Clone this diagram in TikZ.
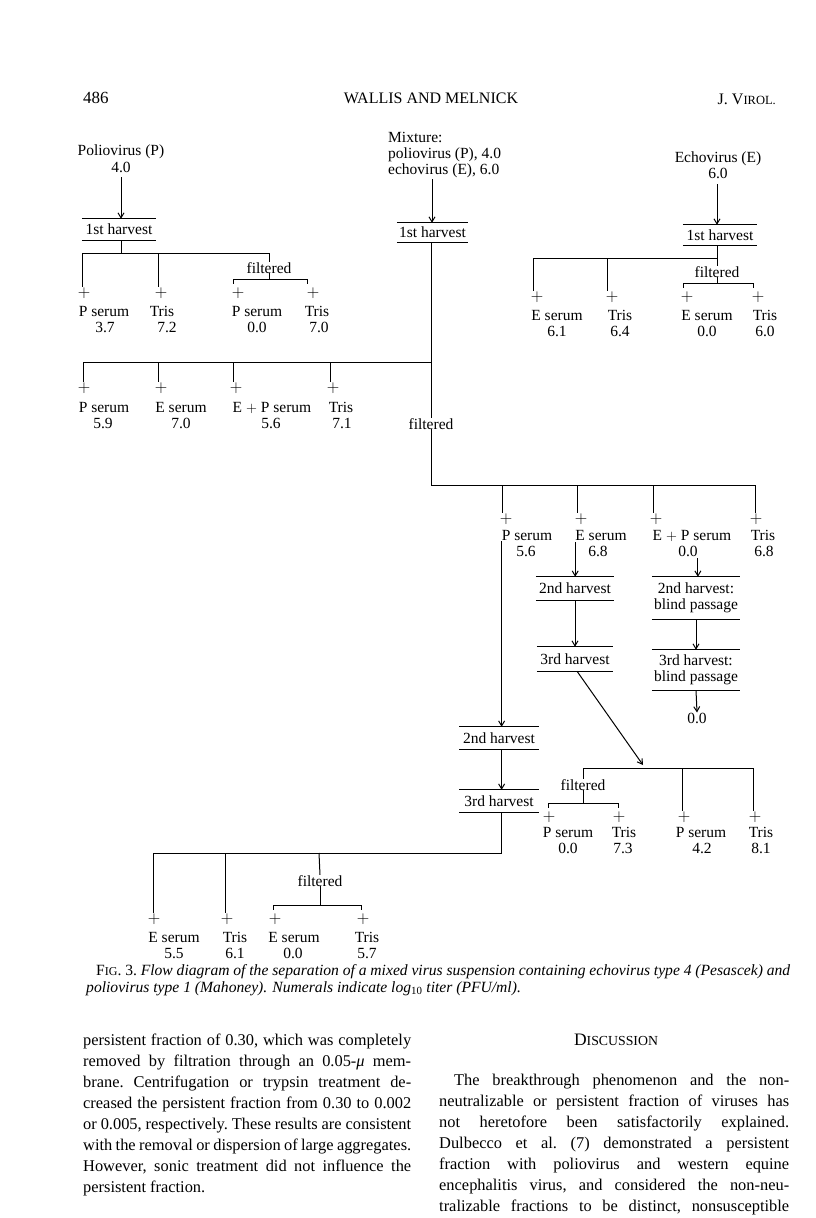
\documentclass[tikz,border=0pt]{standalone}
\usepackage{fontspec}
\setmainfont{Liberation Serif}
\usetikzlibrary{arrows.meta}
\newcommand{\mkleaf}[8]{%
  \node[pl] (#1p) at (#2,#3) {$+$};
  \node[lab] (#1l) at (#4,#5+5) {#6};
  \node[lab] (#1v) at (#7,#5+21) {#8};
}
\newcommand{\fsc}[2][11.5]{{\fontsize{#1}{#1}\selectfont #2}}
\newcommand{\jline}[1]{\hbox to \linew{\frenchspacing\spaceskip=0.25em plus 0.6em minus 0.1em\relax #1}}
\newlength{\linew}
\begin{document}
\begin{tikzpicture}[x=1pt,y=-1pt,
  lab/.style={inner sep=0pt,anchor=base,font=\fontsize{15.5}{16}\selectfont},
  pl/.style={inner sep=0pt,anchor=center,font=\fontsize{16}{16}\selectfont},
  hb/.style={inner sep=0pt,align=center,font=\fontsize{15.5}{16.5}\selectfont},
  body/.style={inner sep=0pt,anchor=base west,font=\fontsize{16.4}{18}\selectfont\frenchspacing},
  ln/.style={line width=1pt},
  ar/.style={line width=1pt,-{Straight Barb[length=5pt,width=6pt]}},
  tk/.style={line width=1pt,shorten >=3pt}
]
\fill[white] (0,0) rectangle (816,1218);
\useasboundingbox (0,0) rectangle (816,1218);

% ---------- header ----------
\node[inner sep=0pt,anchor=base west,font=\fontsize{17}{17}\selectfont] (pg) at (83,103) {486};
\node[inner sep=0pt,anchor=base,font=\fontsize{16}{16}\selectfont] (rh) at (431,103) {WALLIS AND MELNICK};
\node[inner sep=0pt,anchor=base east,font=\fontsize{16}{16}\selectfont] (jv) at (776,104) {J. V\fsc[12.5]{IROL.}};

% ---------- poliovirus branch ----------
\node[lab] (polio) at (121,155) {Poliovirus (P)};
\node[lab] (poliov) at (121,172) {4.0};
\node[hb,minimum width=74pt,minimum height=21pt] (h1) at (119,229.5) {1st harvest};
\draw[ln] (h1.north west) -- (h1.north east) (h1.south west) -- (h1.south east);
\coordinate (a0) at (121,177);
\draw[ar] (a0) -- (a0 |- h1.north);
\coordinate (aj) at (121,253);
\coordinate (aL) at (82,253);
\coordinate (aB) at (158,253);
\coordinate (aR) at (269,253);
\draw[ln] (h1.south -| aj) -- (aj);
\draw[ln] (aL) -- (aR);
\mkleaf{a1}{84}{293}{104}{311}{P serum}{105}{3.7}
\mkleaf{a2}{161}{293}{162}{311}{Tris}{167}{7.2}
\mkleaf{a3}{238}{293}{257}{311}{P serum}{257}{0.0}
\mkleaf{a4}{313}{293}{317}{311}{Tris}{319}{7.0}
\draw[ln] (aL) -- (aL |- a1p.north);
\draw[ln] (aB) -- (aB |- a2p.north);
\node[lab] (af) at (269,273) {filtered};
\draw[ln] (aR) -- (af.north);
\coordinate (afb) at (269,279);
\coordinate (afl) at (233,279);
\coordinate (afr) at (307,279);
\draw[ln] (af.south) -- (afb);
\draw[tk] (afl) -- (afl |- a3p.north);
\draw[ln] (afl) -- (afr);
\draw[tk] (afr) -- (afr |- a4p.north);

% ---------- mixture branch ----------
\node[lab,anchor=base west] (mx1) at (388,142) {Mixture:};
\node[lab,anchor=base west] (mx2) at (388,158) {poliovirus (P), 4.0};
\node[lab,anchor=base west] (mx3) at (388,174) {echovirus (E), 6.0};
\node[hb,minimum width=71pt,minimum height=19pt] (h2) at (432.5,232.5) {1st harvest};
\draw[ln] (h2.north west) -- (h2.north east) (h2.south west) -- (h2.south east);
\coordinate (m0) at (432,179);
\draw[ar] (m0) -- (m0 |- h2.north);
\coordinate (mJ) at (431,362);
\coordinate (mL) at (83,362);
\coordinate (mB) at (158,362);
\coordinate (mC) at (233,362);
\coordinate (mD) at (330,362);
\draw[ln] (h2.south -| mJ) -- (mJ) -- (mL);
\mkleaf{b1}{84}{388}{104}{407}{P serum}{103}{5.9}
\mkleaf{b2}{161}{388}{181}{407}{E serum}{181}{7.0}
\mkleaf{b3}{236}{388}{272}{407}{E $+$ P serum}{271}{5.6}
\mkleaf{b4}{333}{388}{341}{407}{Tris}{342}{7.1}
\draw[ln] (mL) -- (mL |- b1p.north);
\draw[ln] (mB) -- (mB |- b2p.north);
\draw[ln] (mC) -- (mC |- b3p.north);
\draw[ln] (mD) -- (mD |- b4p.north);
\node[lab] (mf) at (431,429) {filtered};
\draw[ln] (mJ) -- (mf.north);
\coordinate (nJ) at (431,485);
\coordinate (nA) at (502,485);
\coordinate (nB) at (577,485);
\coordinate (nC) at (653,485);
\coordinate (nD) at (755,485);
\draw[ln] (mf.south) -- (nJ) -- (nD);
\mkleaf{c1}{506}{519}{527}{535}{P serum}{526}{5.6}
\mkleaf{c2}{581}{519}{601}{535}{E serum}{598}{6.8}
\mkleaf{c3}{656}{519}{692}{535}{E $+$ P serum}{688}{0.0}
\mkleaf{c4}{756}{519}{763}{535}{Tris}{764}{6.8}
\draw[ln] (nA) -- (nA |- c1p.north);
\draw[ln] (nB) -- (nB |- c2p.north);
\draw[ln] (nC) -- (nC |- c3p.north);
\draw[ln] (nD) -- (nD |- c4p.north);

% E serum column
\node[hb,minimum width=78pt,minimum height=23pt] (h4) at (575,588.5) {2nd harvest};
\draw[ln] (h4.north west) -- (h4.north east) (h4.south west) -- (h4.south east);
\node[hb,minimum width=76pt,minimum height=24pt] (h5) at (575,659) {3rd harvest};
\draw[ln] (h5.north west) -- (h5.north east) (h5.south west) -- (h5.south east);
\draw[ar] ([yshift=-2pt]c2l.south west) -- (c2l.south west |- h4.north);
\draw[ar] (h4.south) -- (h5.north);

% E + P serum column
\node[hb,minimum width=88pt,minimum height=42pt] (h6) at (696,598) {2nd harvest:\\blind passage};
\draw[ln] (h6.north west) -- (h6.north east) (h6.south west) -- (h6.south east);
\node[hb,minimum width=88pt,minimum height=40pt] (h7) at (696,670) {3rd harvest:\\blind passage};
\draw[ln] (h7.north west) -- (h7.north east) (h7.south west) -- (h7.south east);
\node[lab] (z0) at (697,723) {0.0};
\draw[ar] ([yshift=-2pt]c3v.south east) -- (c3v.south east |- h6.north);
\draw[ar] (h6.south) -- (h7.north);
\draw[ar] (h7.south) -- (z0.north);

% P serum column
\node[hb,minimum width=79pt,minimum height=22pt] (h8) at (499,738) {2nd harvest};
\draw[ln] (h8.north west) -- (h8.north east) (h8.south west) -- (h8.south east);
\node[hb,minimum width=79pt,minimum height=22pt] (h9) at (499,801) {3rd harvest};
\draw[ln] (h9.north west) -- (h9.north east) (h9.south west) -- (h9.south east);
\draw[ar] ([yshift=-1pt]c1l.south west) -- (c1l.south west |- h8.north);
\draw[ar] (h8.south -| c1l.south west) -- (h9.north -| c1l.south west);

% subtree after E serum 3rd harvest
\coordinate (fL) at (583,768);
\coordinate (fM) at (682,768);
\coordinate (fR) at (753,768);
\coordinate (ft) at (643,765);
\draw[ar] ([xshift=2pt]h5.south) -- (ft);
\draw[ln] (fL) -- (fR);
\mkleaf{f1}{549}{817}{568}{832}{P serum}{568}{0.0}
\mkleaf{f2}{619}{817}{624}{832}{Tris}{623}{7.3}
\mkleaf{f3}{684}{817}{701}{832}{P serum}{702}{4.2}
\mkleaf{f4}{755}{817}{761}{832}{Tris}{761}{8.1}
\node[lab] (ff) at (583,790) {filtered};
\draw[ln] (fL) -- (ff.north);
\coordinate (ffb) at (583,803);
\coordinate (ffl) at (548,803);
\coordinate (ffr) at (618,803);
\draw[ln] (ff.south) -- (ffb);
\draw[tk] (ffl) -- (ffl |- f1p.north);
\draw[ln] (ffl) -- (ffr);
\draw[tk] (ffr) -- (ffr |- f2p.north);
\draw[ln] (fM) -- (fM |- f3p.north);
\draw[ln] (fR) -- (fR |- f4p.north);

% bottom subtree after P serum 3rd harvest
\coordinate (gJ) at (501,853);
\coordinate (gL) at (153,853);
\coordinate (gB) at (225,853);
\coordinate (gF) at (319,853);
\draw[ln] (h9.south -| gJ) -- (gJ) -- (gL);
\mkleaf{g1}{154}{919}{174}{937}{E serum}{174}{5.5}
\mkleaf{g2}{227}{919}{235}{937}{Tris}{235}{6.1}
\mkleaf{g3}{275}{919}{294}{937}{E serum}{293}{0.0}
\mkleaf{g4}{363}{919}{367}{937}{Tris}{367}{5.7}
\draw[ln] (gL) -- (gL |- g1p.north);
\draw[ln] (gB) -- (gB |- g2p.north);
\node[lab] (gf) at (320,886) {filtered};
\draw[ln] (gF) -- (gf.north);
\coordinate (gfb) at (320,905);
\coordinate (gfl) at (273,905);
\coordinate (gfr) at (361,905);
\draw[ln] (gf.south) -- (gfb);
\draw[tk] (gfl) -- (gfl |- g3p.north);
\draw[ln] (gfl) -- (gfr);
\draw[tk] (gfr) -- (gfr |- g4p.north);

% ---------- echovirus branch ----------
\node[lab] (echo) at (718,162) {Echovirus (E)};
\node[lab] (echov) at (718,178) {6.0};
\node[hb,minimum width=74pt,minimum height=20pt] (h3) at (720,235) {1st harvest};
\draw[ln] (h3.north west) -- (h3.north east) (h3.south west) -- (h3.south east);
\coordinate (e0) at (717,184);
\draw[ar] (e0) -- (e0 |- h3.north);
\coordinate (eJ) at (717,258);
\coordinate (eL) at (533,258);
\coordinate (eB) at (607,258);
\draw[ln] (h3.south -| eJ) -- (eJ) -- (eL);
\mkleaf{d1}{537}{297}{557}{315}{E serum}{557}{6.1}
\mkleaf{d2}{612}{297}{620}{315}{Tris}{620}{6.4}
\mkleaf{d3}{687}{297}{707}{315}{E serum}{707}{0.0}
\mkleaf{d4}{758}{297}{765}{315}{Tris}{765}{6.0}
\draw[ln] (eL) -- (eL |- d1p.north);
\draw[ln] (eB) -- (eB |- d2p.north);
\node[lab] (ef) at (717,277) {filtered};
\draw[ln] (eJ) -- (ef.north);
\coordinate (efb) at (717,283);
\coordinate (efl) at (683,283);
\coordinate (efr) at (753,283);
\draw[ln] (ef.south) -- (efb);
\draw[tk] (efl) -- (efl |- d3p.north);
\draw[ln] (efl) -- (efr);
\draw[tk] (efr) -- (efr |- d4p.north);

% ---------- caption ----------
\node[body,font=\fontsize{15.6}{16}\selectfont\itshape] (cap1) at (96,975)
  {\setlength{\linew}{694pt}\jline{\upshape F\fsc[12]{IG}. 3.\itshape{} Flow diagram of the separation of a mixed virus suspension containing echovirus type 4 (Pesascek) and}};
\node[body,font=\fontsize{15.6}{16}\selectfont\itshape] (cap2) at (86,992)
  {poliovirus type 1 (Mahoney). Numerals indicate log{\upshape\textsubscript{10}} titer (PFU/ml).};

% ---------- body text, left column ----------
\node[body] (t1) at (83,1045) {\setlength{\linew}{328pt}\jline{persistent fraction of 0.30, which was completely}};
\node[body] (t2) at (83,1066) {\setlength{\linew}{328pt}\jline{removed by filtration through an 0.05-{\itshape μ} mem-}};
\node[body] (t3) at (83,1087) {\setlength{\linew}{328pt}\jline{brane. Centrifugation or trypsin treatment de-}};
\node[body] (t4) at (83,1108) {\setlength{\linew}{328pt}\jline{creased the persistent fraction from 0.30 to 0.002}};
\node[body] (t5) at (83,1129) {\setlength{\linew}{328pt}\jline{or 0.005, respectively. These results are consistent}};
\node[body] (t6) at (83,1150) {\setlength{\linew}{328pt}\jline{with the removal or dispersion of large aggregates.}};
\node[body] (t7) at (83,1171) {\setlength{\linew}{328pt}\jline{However, sonic treatment did not influence the}};
\node[body] (t8) at (83,1192) {persistent fraction.};

% ---------- body text, right column ----------
\node[inner sep=0pt,anchor=base,font=\fontsize{17.5}{18}\selectfont] (disc) at (616,1045) {D\fsc[13.8]{ISCUSSION}};
\node[body] (r1) at (454,1085) {\setlength{\linew}{335pt}\jline{The breakthrough phenomenon and the non-}};
\node[body] (r2) at (439,1106) {\setlength{\linew}{350pt}\jline{neutralizable or persistent fraction of viruses has}};
\node[body] (r3) at (439,1127) {\setlength{\linew}{350pt}\jline{not heretofore been satisfactorily explained.}};
\node[body] (r4) at (439,1148) {\setlength{\linew}{350pt}\jline{Dulbecco et al. (7) demonstrated a persistent}};
\node[body] (r5) at (439,1169) {\setlength{\linew}{350pt}\jline{fraction with poliovirus and western equine}};
\node[body] (r6) at (439,1190) {\setlength{\linew}{350pt}\jline{encephalitis virus, and considered the non-neu-}};
\node[body] (r7) at (439,1211) {\setlength{\linew}{350pt}\jline{tralizable fractions to be distinct, nonsusceptible}};
\end{tikzpicture}
\end{document}
